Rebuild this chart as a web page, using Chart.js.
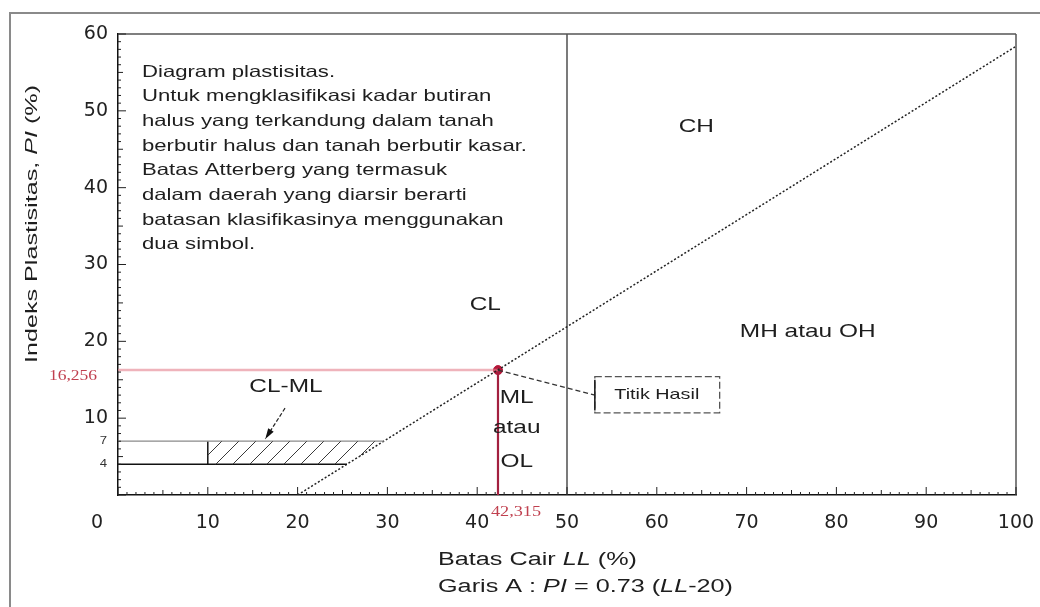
<!DOCTYPE html>
<html>
<head>
<meta charset="utf-8">
<title>Diagram plastisitas</title>
<script src="https://cdn.jsdelivr.net/npm/chart.js@4.4.1/dist/chart.umd.min.js"></script>
<style>
    html, body { margin: 0; padding: 0; background: #fff; overflow: hidden; }
    #frame { position: absolute; left: 9px; top: 12px; width: 1100px; height: 700px; border: 2px solid #8a8a8a; }
    #wrap { position: absolute; left: 0; top: 0; width: 1040px; height: 607px; }
</style>
</head>
<body>
<div id="frame"></div>
<div id="wrap"><canvas id="chart" width="1040" height="607"></canvas></div>
<script>
// Diagram plastisitas - batas Atterberg

const xTicks = [0, 10, 20, 30, 40, 50, 60, 70, 80, 90, 100];
const yTicks = [0, 10, 20, 30, 40, 50, 60];

// Garis A : PI = 0.73 (LL-20)
const aLineLL = [20, 100];
const aLinePI = [0, 58.4];

// batas LL = 50
const limitLL = [50, 50];
const limitPI = [0, 60];

// daerah CL-ML (PI 4 - 7)
const clmlTopLL = [0, 29.6];
const clmlTopPI = [7, 7];
const clmlBottomLL = [0, 25.5];
const clmlBottomPI = [4, 4];
const clmlEdgeLL = [10, 10];
const clmlEdgePI = [4, 7];
const hatchLL = [10, 10, 29.6, 25.5, 10];
const hatchPI = [4, 7, 7, 4, 4];

// titik hasil
const resultLL = [42.315];
const resultPI = [16.256];

const noteLines = [
    'Diagram plastisitas.',
    'Untuk mengklasifikasi kadar butiran',
    'halus yang terkandung dalam tanah',
    'berbutir halus dan tanah berbutir kasar.',
    'Batas Atterberg yang termasuk',
    'dalam daerah yang diarsir berarti',
    'batasan klasifikasinya menggunakan',
    'dua simbol.'
];

// region labels (data units)
const regionLabels = [
    { text: 'CH', x: 64.4, y: 47.9 },
    { text: 'CL', x: 40.9, y: 24.7 },
    { text: 'MH atau OH', x: 76.8, y: 21.2 },
    { text: 'ML', x: 44.4, y: 12.6 },
    { text: 'atau', x: 44.4, y: 8.7 },
    { text: 'OL', x: 44.4, y: 4.3 },
    { text: 'CL-ML', x: 18.7, y: 14.1 }
];

const SANS = "'Liberation Sans', Arial, sans-serif";
const SERIF = "'Liberation Serif', 'Times New Roman', serif";

const pts = (xs, ys) => xs.map((x, i) => ({ x: x, y: ys[i] }));

function hatchPattern() {
    const c = document.createElement('canvas');
    c.width = 17; c.height = 17;
    const g = c.getContext('2d');
    g.strokeStyle = '#3a3a3a';
    g.lineWidth = 1;
    g.beginPath();
    g.moveTo(0, 17); g.lineTo(17, 0);
    g.moveTo(-3, 3); g.lineTo(3, -3);
    g.moveTo(14, 20); g.lineTo(20, 14);
    g.stroke();
    return g.createPattern(c, 'repeat');
}

// text with optional italic runs, stretched horizontally like the original
function drawText(ctx, runs, x, y, o) {
    const size = o.size || 18;
    const fam = o.family || SANS;
    if (typeof runs === 'string') runs = [[runs, false]];
    const fontOf = it => (it ? 'italic ' : '') + size + 'px ' + fam;
    let w = 0;
    runs.forEach(r => { ctx.font = fontOf(r[1]); w += ctx.measureText(r[0]).width; });
    const sx = o.width ? o.width / w : (o.sx || 1);
    ctx.save();
    ctx.translate(x, y);
    if (o.rotate) ctx.rotate(o.rotate);
    ctx.scale(sx, 1);
    ctx.fillStyle = o.color || '#1e1e1e';
    ctx.textBaseline = 'middle';
    ctx.textAlign = 'left';
    let cx = o.align === 'center' ? -w / 2 : o.align === 'right' ? -w : 0;
    runs.forEach(r => {
        ctx.font = fontOf(r[1]);
        ctx.fillText(r[0], cx, 0);
        cx += ctx.measureText(r[0]).width;
    });
    ctx.restore();
    return sx;
}

function fitScale(ctx, text, size, width) {
    ctx.font = size + 'px ' + SANS;
    return width / ctx.measureText(text).width;
}

function line(ctx, x1, y1, x2, y2) {
    ctx.beginPath();
    ctx.moveTo(x1, y1);
    ctx.lineTo(x2, y2);
    ctx.stroke();
}

const plastisitasPlugin = {
    id: 'plastisitas',
    afterDraw(chart) {
        const { ctx, chartArea: a, scales: { x, y } } = chart;
        const px = v => x.getPixelForValue(v);
        const py = v => y.getPixelForValue(v);
        ctx.save();

        // top and right frame
        ctx.strokeStyle = '#555';
        ctx.lineWidth = 1.5;
        line(ctx, a.left, a.top, a.right, a.top);
        line(ctx, a.right, a.top, a.right, a.bottom);

        // inward ticks
        ctx.strokeStyle = '#222';
        ctx.lineWidth = 1;
        for (let v = 0; v <= 100; v++) {
            const len = v % 10 === 0 ? 8 : v % 5 === 0 ? 5 : 3;
            line(ctx, px(v), a.bottom, px(v), a.bottom - len);
        }
        for (let v = 0; v <= 60; v++) {
            const len = v % 10 === 0 ? 8 : v % 5 === 0 ? 5 : 3;
            line(ctx, a.left, py(v), a.left + len, py(v));
        }

        // extra tick labels
        drawText(ctx, '0', px(0) - 21, a.bottom + 28, { size: 19, family: "'DejaVu Sans', sans-serif", align: 'center', color: '#222' });
        drawText(ctx, '7', a.left - 11, py(7), { size: 11, align: 'right', sx: 1.2, color: '#333' });
        drawText(ctx, '4', a.left - 11, py(4), { size: 11, align: 'right', sx: 1.2, color: '#333' });
        drawText(ctx, '16,256', a.left - 21, py(resultPI[0]) + 6, { size: 14, family: SERIF, align: 'right', sx: 1.25, color: '#c0404f' });
        drawText(ctx, '42,315', px(resultLL[0]) - 7, a.bottom + 17, { size: 14, family: SERIF, sx: 1.3, color: '#c0404f' });

        // note block
        const sx = fitScale(ctx, noteLines[3], 16.5, 385);
        noteLines.forEach((t, i) => {
            drawText(ctx, t, a.left + 24, a.top + 38 + i * 24.7, { size: 16.5, sx: sx });
        });

        // region labels
        regionLabels.forEach(r => {
            drawText(ctx, r.text, px(r.x), py(r.y), { size: 18.5, align: 'center', sx: 1.32 });
        });

        // leader line to "Titik Hasil" box
        ctx.strokeStyle = '#333';
        ctx.lineWidth = 1.3;
        ctx.setLineDash([5, 3]);
        line(ctx, px(resultLL[0]), py(resultPI[0]), px(53.1), py(13.0));
        ctx.strokeStyle = '#555';
        ctx.setLineDash([7, 3]);
        ctx.strokeRect(px(53.1), py(15.4), px(67.0) - px(53.1), py(10.7) - py(15.4));
        ctx.setLineDash([]);
        ctx.strokeStyle = '#222';
        ctx.lineWidth = 1.6;
        line(ctx, px(53.1), py(15.0), px(53.1), py(11.0));
        drawText(ctx, 'Titik Hasil', px(60.0), py(13.0), { size: 14.5, align: 'center', width: 85 });

        // arrow to CL-ML area
        const ax1 = px(18.6), ay1 = py(11.3), ax2 = px(16.4), ay2 = py(7.3);
        ctx.strokeStyle = '#222';
        ctx.lineWidth = 1.2;
        ctx.setLineDash([4, 2]);
        line(ctx, ax1, ay1, ax2, ay2);
        ctx.setLineDash([]);
        const ang = Math.atan2(ay2 - ay1, ax2 - ax1);
        ctx.fillStyle = '#111';
        ctx.beginPath();
        ctx.moveTo(ax2, ay2);
        ctx.lineTo(ax2 - 11 * Math.cos(ang - 0.3), ay2 - 11 * Math.sin(ang - 0.3));
        ctx.lineTo(ax2 - 11 * Math.cos(ang + 0.3), ay2 - 11 * Math.sin(ang + 0.3));
        ctx.closePath();
        ctx.fill();

        // axis titles
        drawText(ctx, [['Indeks Plastisitas, ', false], ['PI', true], [' (%)', false]], 32, 224,
            { size: 17, align: 'center', rotate: -Math.PI / 2, width: 278 });
        const tx = fitScale(ctx, 'Garis A : PI = 0.73 (LL-20)', 18, 295);
        drawText(ctx, [['Batas Cair ', false], ['LL', true], [' (%)', false]], 438, 560, { size: 18, sx: tx });
        drawText(ctx, [['Garis A : ', false], ['PI', true], [' = 0.73 (', false], ['LL', true], ['-20)', false]], 438, 587, { size: 18, sx: tx });

        ctx.restore();
    }
};

const lineSet = (data, color, width, extra) => Object.assign({
    data: data,
    showLine: true,
    borderColor: color,
    borderWidth: width,
    pointRadius: 0,
    fill: false
}, extra || {});

const ctx = document.getElementById('chart').getContext('2d');

new Chart(ctx, {
    type: 'scatter',
    data: {
        datasets: [
            lineSet(pts(hatchLL, hatchPI), 'rgba(0,0,0,0)', 0, { fill: 'shape', backgroundColor: hatchPattern() }),
            lineSet(pts(clmlTopLL, clmlTopPI), '#8a8a8a', 1.3),
            lineSet(pts(clmlBottomLL, clmlBottomPI), '#111', 1.7),
            lineSet(pts(clmlEdgeLL, clmlEdgePI), '#111', 1.5),
            lineSet(pts(aLineLL, aLinePI), '#222', 1.5, { borderDash: [2, 2] }),
            lineSet(pts(limitLL, limitPI), '#333', 1.3),
            lineSet(pts([0, resultLL[0]], [resultPI[0], resultPI[0]]), 'rgba(228,128,142,0.6)', 2.5),
            lineSet(pts([resultLL[0], resultLL[0]], [0, resultPI[0]]), '#a3203f', 2.2),
            {
                data: pts(resultLL, resultPI),
                pointRadius: 4.5,
                pointBackgroundColor: '#b5173a',
                pointBorderColor: '#b5173a'
            }
        ]
    },
    options: {
        responsive: false,
        animation: false,
        events: [],
        layout: { padding: { top: 34, right: 24, left: 0, bottom: 0 } },
        plugins: {
            legend: { display: false },
            tooltip: { enabled: false }
        },
        scales: {
            x: {
                type: 'linear',
                min: 0,
                max: 100,
                afterFit: s => {
                    s.height = 112;
                    s.paddingLeft = 0;
                    s.paddingRight = 0;
                },
                afterBuildTicks: s => { s.ticks = xTicks.map(v => ({ value: v })); },
                grid: { display: false, drawTicks: false },
                border: { display: true, color: '#111', width: 1.5 },
                ticks: {
                    padding: 17,
                    color: '#222',
                    font: { family: "'DejaVu Sans', sans-serif", size: 19 },
                    callback: v => v === 0 ? '' : v
                }
            },
            y: {
                type: 'linear',
                min: 0,
                max: 60,
                afterFit: s => {
                    s.width = 118;
                    s.paddingTop = 0;
                    s.paddingBottom = 0;
                },
                afterBuildTicks: s => { s.ticks = yTicks.map(v => ({ value: v })); },
                grid: { display: false, drawTicks: false },
                border: { display: true, color: '#111', width: 1.5 },
                ticks: {
                    padding: 10,
                    color: '#222',
                    font: { family: "'DejaVu Sans', sans-serif", size: 19 },
                    callback: v => v === 0 ? '' : v
                }
            }
        }
    },
    plugins: [plastisitasPlugin]
});
</script>
</body>
</html>
